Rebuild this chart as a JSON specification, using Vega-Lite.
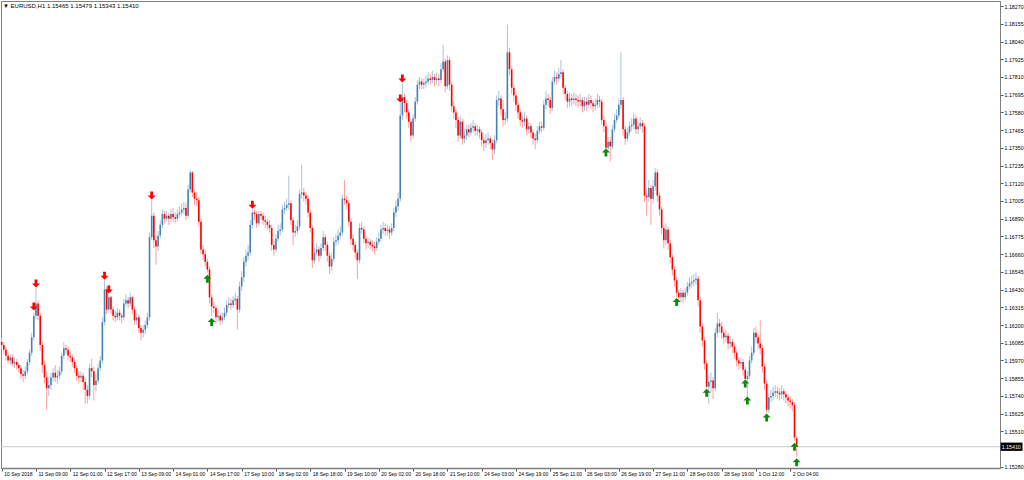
{
"$schema":"https://vega.github.io/schema/vega-lite/v6.json",
"width":999,"height":467,
"autosize":{"type":"none"},
"padding":{"left":1,"top":1,"right":24,"bottom":12},
"background":"#ffffff",
"config":{"view":{"stroke":"#7f7f7f","strokeWidth":1},"font":"Liberation Sans Narrow, Liberation Sans",
 "axis":{"labelOverlap":false,"labelBound":false,"labelFlush":false,"grid":false,"title":null}},
"title":{"text":"▼ EURUSD,H1  1.15465 1.15479 1.15343 1.15410","anchor":"start","frame":"group","orient":"top","offset":-8,"dx":2,"fontSize":6,"fontWeight":"normal","color":"#000000","font":"Liberation Sans Narrow, Liberation Sans"},
"datasets":{
"bars":[
{"i":0,"o":1.1609,"h":1.1612,"l":1.1604,"c":1.1607},
{"i":1,"o":1.1607,"h":1.1609,"l":1.1601,"c":1.1604},
{"i":2,"o":1.1604,"h":1.1606,"l":1.1597,"c":1.1600},
{"i":3,"o":1.1600,"h":1.1602,"l":1.1595,"c":1.1597},
{"i":4,"o":1.1597,"h":1.1601,"l":1.1594,"c":1.1599},
{"i":5,"o":1.1599,"h":1.1601,"l":1.1593,"c":1.1595},
{"i":6,"o":1.1595,"h":1.1599,"l":1.1592,"c":1.1596},
{"i":7,"o":1.1596,"h":1.1598,"l":1.1591,"c":1.1594},
{"i":8,"o":1.1594,"h":1.1596,"l":1.1589,"c":1.1592},
{"i":9,"o":1.1592,"h":1.1594,"l":1.1585,"c":1.1588},
{"i":10,"o":1.1588,"h":1.1591,"l":1.1583,"c":1.1587},
{"i":11,"o":1.1587,"h":1.1593,"l":1.1585,"c":1.1590},
{"i":12,"o":1.1590,"h":1.1598,"l":1.1588,"c":1.1596},
{"i":13,"o":1.1596,"h":1.1604,"l":1.1594,"c":1.1602},
{"i":14,"o":1.1602,"h":1.1615,"l":1.1600,"c":1.1612},
{"i":15,"o":1.1612,"h":1.1628,"l":1.1610,"c":1.1626},
{"i":16,"o":1.1626,"h":1.1644,"l":1.1624,"c":1.1634},
{"i":17,"o":1.1634,"h":1.1636,"l":1.1623,"c":1.1626},
{"i":18,"o":1.1626,"h":1.1628,"l":1.1603,"c":1.1607},
{"i":19,"o":1.1607,"h":1.1609,"l":1.1589,"c":1.1594},
{"i":20,"o":1.1594,"h":1.1597,"l":1.1582,"c":1.1586},
{"i":21,"o":1.1586,"h":1.1590,"l":1.1565,"c":1.1579},
{"i":22,"o":1.1579,"h":1.1586,"l":1.1574,"c":1.1581},
{"i":23,"o":1.1581,"h":1.1589,"l":1.1578,"c":1.1586},
{"i":24,"o":1.1586,"h":1.1592,"l":1.1583,"c":1.1589},
{"i":25,"o":1.1589,"h":1.1594,"l":1.1583,"c":1.1586},
{"i":26,"o":1.1586,"h":1.1591,"l":1.1582,"c":1.1587},
{"i":27,"o":1.1587,"h":1.1593,"l":1.1585,"c":1.1590},
{"i":28,"o":1.1590,"h":1.1602,"l":1.1588,"c":1.1600},
{"i":29,"o":1.1600,"h":1.1609,"l":1.1598,"c":1.1605},
{"i":30,"o":1.1605,"h":1.1607,"l":1.1601,"c":1.1604},
{"i":31,"o":1.1604,"h":1.1606,"l":1.1597,"c":1.1600},
{"i":32,"o":1.1600,"h":1.1603,"l":1.1596,"c":1.1599},
{"i":33,"o":1.1599,"h":1.1601,"l":1.1593,"c":1.1596},
{"i":34,"o":1.1596,"h":1.1598,"l":1.1589,"c":1.1592},
{"i":35,"o":1.1592,"h":1.1594,"l":1.1584,"c":1.1587},
{"i":36,"o":1.1587,"h":1.1590,"l":1.1582,"c":1.1586},
{"i":37,"o":1.1586,"h":1.1590,"l":1.1583,"c":1.1587},
{"i":38,"o":1.1587,"h":1.1589,"l":1.1578,"c":1.1583},
{"i":39,"o":1.1583,"h":1.1586,"l":1.1569,"c":1.1578},
{"i":40,"o":1.1578,"h":1.1581,"l":1.1569,"c":1.1574},
{"i":41,"o":1.1574,"h":1.1595,"l":1.1572,"c":1.1592},
{"i":42,"o":1.1592,"h":1.1598,"l":1.1586,"c":1.1590},
{"i":43,"o":1.1590,"h":1.1593,"l":1.1571,"c":1.1581},
{"i":44,"o":1.1581,"h":1.1588,"l":1.1577,"c":1.1584},
{"i":45,"o":1.1584,"h":1.1595,"l":1.1582,"c":1.1592},
{"i":46,"o":1.1592,"h":1.1600,"l":1.1590,"c":1.1597},
{"i":47,"o":1.1597,"h":1.1625,"l":1.1595,"c":1.1622},
{"i":48,"o":1.1622,"h":1.1649,"l":1.1620,"c":1.1643},
{"i":49,"o":1.1643,"h":1.1645,"l":1.1627,"c":1.1630},
{"i":50,"o":1.1630,"h":1.1640,"l":1.1628,"c":1.1638},
{"i":51,"o":1.1638,"h":1.1639,"l":1.1627,"c":1.1630},
{"i":52,"o":1.1630,"h":1.1632,"l":1.1623,"c":1.1626},
{"i":53,"o":1.1626,"h":1.1629,"l":1.1622,"c":1.1625},
{"i":54,"o":1.1625,"h":1.1631,"l":1.1623,"c":1.1628},
{"i":55,"o":1.1628,"h":1.1630,"l":1.1623,"c":1.1626},
{"i":56,"o":1.1626,"h":1.1628,"l":1.1621,"c":1.1625},
{"i":57,"o":1.1625,"h":1.1637,"l":1.1623,"c":1.1634},
{"i":58,"o":1.1634,"h":1.1640,"l":1.1632,"c":1.1636},
{"i":59,"o":1.1636,"h":1.1638,"l":1.1631,"c":1.1634},
{"i":60,"o":1.1634,"h":1.1641,"l":1.1632,"c":1.1638},
{"i":61,"o":1.1638,"h":1.1639,"l":1.1627,"c":1.1630},
{"i":62,"o":1.1630,"h":1.1632,"l":1.1620,"c":1.1623},
{"i":63,"o":1.1623,"h":1.1628,"l":1.1620,"c":1.1625},
{"i":64,"o":1.1625,"h":1.1627,"l":1.1615,"c":1.1618},
{"i":65,"o":1.1618,"h":1.1620,"l":1.1610,"c":1.1615},
{"i":66,"o":1.1615,"h":1.1620,"l":1.1612,"c":1.1617},
{"i":67,"o":1.1617,"h":1.1623,"l":1.1614,"c":1.1620},
{"i":68,"o":1.1620,"h":1.1628,"l":1.1618,"c":1.1625},
{"i":69,"o":1.1625,"h":1.1680,"l":1.1623,"c":1.1677},
{"i":70,"o":1.1677,"h":1.1701,"l":1.1675,"c":1.1691},
{"i":71,"o":1.1691,"h":1.1693,"l":1.1670,"c":1.1675},
{"i":72,"o":1.1675,"h":1.1678,"l":1.1659,"c":1.1671},
{"i":73,"o":1.1671,"h":1.1681,"l":1.1668,"c":1.1678},
{"i":74,"o":1.1678,"h":1.1688,"l":1.1676,"c":1.1685},
{"i":75,"o":1.1685,"h":1.1695,"l":1.1683,"c":1.1692},
{"i":76,"o":1.1692,"h":1.1694,"l":1.1686,"c":1.1689},
{"i":77,"o":1.1689,"h":1.1694,"l":1.1687,"c":1.1691},
{"i":78,"o":1.1691,"h":1.1693,"l":1.1685,"c":1.1689},
{"i":79,"o":1.1689,"h":1.1695,"l":1.1687,"c":1.1692},
{"i":80,"o":1.1692,"h":1.1696,"l":1.1687,"c":1.1690},
{"i":81,"o":1.1690,"h":1.1693,"l":1.1686,"c":1.1689},
{"i":82,"o":1.1689,"h":1.1695,"l":1.1687,"c":1.1692},
{"i":83,"o":1.1692,"h":1.1697,"l":1.1690,"c":1.1693},
{"i":84,"o":1.1693,"h":1.1699,"l":1.1691,"c":1.1695},
{"i":85,"o":1.1695,"h":1.1700,"l":1.1692,"c":1.1696},
{"i":86,"o":1.1696,"h":1.1699,"l":1.1688,"c":1.1691},
{"i":87,"o":1.1691,"h":1.1711,"l":1.1689,"c":1.1708},
{"i":88,"o":1.1708,"h":1.1721,"l":1.1706,"c":1.1719},
{"i":89,"o":1.1719,"h":1.1720,"l":1.1703,"c":1.1706},
{"i":90,"o":1.1706,"h":1.1708,"l":1.1698,"c":1.1702},
{"i":91,"o":1.1702,"h":1.1706,"l":1.1697,"c":1.1701},
{"i":92,"o":1.1701,"h":1.1703,"l":1.1684,"c":1.1687},
{"i":93,"o":1.1687,"h":1.1689,"l":1.1666,"c":1.1669},
{"i":94,"o":1.1669,"h":1.1672,"l":1.1662,"c":1.1666},
{"i":95,"o":1.1666,"h":1.1669,"l":1.1658,"c":1.1661},
{"i":96,"o":1.1661,"h":1.1663,"l":1.1654,"c":1.1656},
{"i":97,"o":1.1656,"h":1.1658,"l":1.1634,"c":1.1638},
{"i":98,"o":1.1638,"h":1.1640,"l":1.1626,"c":1.1632},
{"i":99,"o":1.1632,"h":1.1635,"l":1.1628,"c":1.1631},
{"i":100,"o":1.1631,"h":1.1633,"l":1.1621,"c":1.1625},
{"i":101,"o":1.1625,"h":1.1629,"l":1.1622,"c":1.1626},
{"i":102,"o":1.1626,"h":1.1628,"l":1.1620,"c":1.1623},
{"i":103,"o":1.1623,"h":1.1628,"l":1.1621,"c":1.1625},
{"i":104,"o":1.1625,"h":1.1631,"l":1.1623,"c":1.1628},
{"i":105,"o":1.1628,"h":1.1636,"l":1.1626,"c":1.1633},
{"i":106,"o":1.1633,"h":1.1638,"l":1.1631,"c":1.1634},
{"i":107,"o":1.1634,"h":1.1637,"l":1.1630,"c":1.1633},
{"i":108,"o":1.1633,"h":1.1639,"l":1.1631,"c":1.1636},
{"i":109,"o":1.1636,"h":1.1641,"l":1.1633,"c":1.1637},
{"i":110,"o":1.1637,"h":1.1639,"l":1.1617,"c":1.1630},
{"i":111,"o":1.1630,"h":1.1648,"l":1.1628,"c":1.1645},
{"i":112,"o":1.1645,"h":1.1655,"l":1.1642,"c":1.1651},
{"i":113,"o":1.1651,"h":1.1664,"l":1.1648,"c":1.1661},
{"i":114,"o":1.1661,"h":1.1669,"l":1.1658,"c":1.1665},
{"i":115,"o":1.1665,"h":1.1672,"l":1.1662,"c":1.1667},
{"i":116,"o":1.1667,"h":1.1688,"l":1.1665,"c":1.1685},
{"i":117,"o":1.1685,"h":1.1695,"l":1.1683,"c":1.1693},
{"i":118,"o":1.1693,"h":1.1695,"l":1.1688,"c":1.1692},
{"i":119,"o":1.1692,"h":1.1694,"l":1.1683,"c":1.1686},
{"i":120,"o":1.1686,"h":1.1694,"l":1.1684,"c":1.1692},
{"i":121,"o":1.1692,"h":1.1694,"l":1.1688,"c":1.1691},
{"i":122,"o":1.1691,"h":1.1693,"l":1.1685,"c":1.1688},
{"i":123,"o":1.1688,"h":1.1691,"l":1.1683,"c":1.1687},
{"i":124,"o":1.1687,"h":1.1689,"l":1.1682,"c":1.1685},
{"i":125,"o":1.1685,"h":1.1688,"l":1.1680,"c":1.1683},
{"i":126,"o":1.1683,"h":1.1685,"l":1.1668,"c":1.1672},
{"i":127,"o":1.1672,"h":1.1675,"l":1.1665,"c":1.1669},
{"i":128,"o":1.1669,"h":1.1679,"l":1.1667,"c":1.1676},
{"i":129,"o":1.1676,"h":1.1685,"l":1.1674,"c":1.1681},
{"i":130,"o":1.1681,"h":1.1686,"l":1.1678,"c":1.1682},
{"i":131,"o":1.1682,"h":1.1698,"l":1.1680,"c":1.1695},
{"i":132,"o":1.1695,"h":1.1700,"l":1.1692,"c":1.1696},
{"i":133,"o":1.1696,"h":1.1702,"l":1.1694,"c":1.1698},
{"i":134,"o":1.1698,"h":1.1717,"l":1.1695,"c":1.1699},
{"i":135,"o":1.1699,"h":1.1701,"l":1.1685,"c":1.1688},
{"i":136,"o":1.1688,"h":1.1690,"l":1.1672,"c":1.1680},
{"i":137,"o":1.1680,"h":1.1685,"l":1.1677,"c":1.1681},
{"i":138,"o":1.1681,"h":1.1688,"l":1.1679,"c":1.1684},
{"i":139,"o":1.1684,"h":1.1708,"l":1.1682,"c":1.1705},
{"i":140,"o":1.1705,"h":1.1724,"l":1.1702,"c":1.1706},
{"i":141,"o":1.1706,"h":1.1709,"l":1.1700,"c":1.1704},
{"i":142,"o":1.1704,"h":1.1706,"l":1.1698,"c":1.1702},
{"i":143,"o":1.1702,"h":1.1704,"l":1.1690,"c":1.1693},
{"i":144,"o":1.1693,"h":1.1695,"l":1.1680,"c":1.1683},
{"i":145,"o":1.1683,"h":1.1685,"l":1.1657,"c":1.1662},
{"i":146,"o":1.1662,"h":1.1670,"l":1.1660,"c":1.1667},
{"i":147,"o":1.1667,"h":1.1673,"l":1.1665,"c":1.1669},
{"i":148,"o":1.1669,"h":1.1671,"l":1.1661,"c":1.1665},
{"i":149,"o":1.1665,"h":1.1673,"l":1.1663,"c":1.1670},
{"i":150,"o":1.1670,"h":1.1681,"l":1.1668,"c":1.1677},
{"i":151,"o":1.1677,"h":1.1679,"l":1.1668,"c":1.1672},
{"i":152,"o":1.1672,"h":1.1674,"l":1.1661,"c":1.1665},
{"i":153,"o":1.1665,"h":1.1667,"l":1.1653,"c":1.1658},
{"i":154,"o":1.1658,"h":1.1667,"l":1.1655,"c":1.1663},
{"i":155,"o":1.1663,"h":1.1677,"l":1.1661,"c":1.1674},
{"i":156,"o":1.1674,"h":1.1679,"l":1.1671,"c":1.1675},
{"i":157,"o":1.1675,"h":1.1682,"l":1.1672,"c":1.1678},
{"i":158,"o":1.1678,"h":1.1684,"l":1.1676,"c":1.1680},
{"i":159,"o":1.1680,"h":1.1705,"l":1.1678,"c":1.1702},
{"i":160,"o":1.1702,"h":1.1714,"l":1.1698,"c":1.1701},
{"i":161,"o":1.1701,"h":1.1704,"l":1.1695,"c":1.1699},
{"i":162,"o":1.1699,"h":1.1701,"l":1.1684,"c":1.1687},
{"i":163,"o":1.1687,"h":1.1689,"l":1.1672,"c":1.1676},
{"i":164,"o":1.1676,"h":1.1679,"l":1.1668,"c":1.1672},
{"i":165,"o":1.1672,"h":1.1674,"l":1.1663,"c":1.1667},
{"i":166,"o":1.1667,"h":1.1669,"l":1.1650,"c":1.1662},
{"i":167,"o":1.1662,"h":1.1686,"l":1.1660,"c":1.1683},
{"i":168,"o":1.1683,"h":1.1687,"l":1.1679,"c":1.1682},
{"i":169,"o":1.1682,"h":1.1684,"l":1.1673,"c":1.1676},
{"i":170,"o":1.1676,"h":1.1678,"l":1.1669,"c":1.1673},
{"i":171,"o":1.1673,"h":1.1677,"l":1.1670,"c":1.1674},
{"i":172,"o":1.1674,"h":1.1676,"l":1.1669,"c":1.1672},
{"i":173,"o":1.1672,"h":1.1675,"l":1.1668,"c":1.1671},
{"i":174,"o":1.1671,"h":1.1674,"l":1.1666,"c":1.1670},
{"i":175,"o":1.1670,"h":1.1677,"l":1.1668,"c":1.1674},
{"i":176,"o":1.1674,"h":1.1680,"l":1.1672,"c":1.1676},
{"i":177,"o":1.1676,"h":1.1685,"l":1.1674,"c":1.1682},
{"i":178,"o":1.1682,"h":1.1687,"l":1.1679,"c":1.1683},
{"i":179,"o":1.1683,"h":1.1686,"l":1.1678,"c":1.1681},
{"i":180,"o":1.1681,"h":1.1685,"l":1.1678,"c":1.1682},
{"i":181,"o":1.1682,"h":1.1684,"l":1.1676,"c":1.1680},
{"i":182,"o":1.1680,"h":1.1686,"l":1.1678,"c":1.1683},
{"i":183,"o":1.1683,"h":1.1696,"l":1.1681,"c":1.1693},
{"i":184,"o":1.1693,"h":1.1701,"l":1.1690,"c":1.1697},
{"i":185,"o":1.1697,"h":1.1706,"l":1.1694,"c":1.1702},
{"i":186,"o":1.1702,"h":1.1764,"l":1.1700,"c":1.1756},
{"i":187,"o":1.1756,"h":1.1777,"l":1.1753,"c":1.1768},
{"i":188,"o":1.1768,"h":1.1770,"l":1.1758,"c":1.1764},
{"i":189,"o":1.1764,"h":1.1766,"l":1.1754,"c":1.1758},
{"i":190,"o":1.1758,"h":1.1760,"l":1.1748,"c":1.1752},
{"i":191,"o":1.1752,"h":1.1754,"l":1.1739,"c":1.1743},
{"i":192,"o":1.1743,"h":1.1757,"l":1.1741,"c":1.1754},
{"i":193,"o":1.1754,"h":1.1768,"l":1.1752,"c":1.1765},
{"i":194,"o":1.1765,"h":1.1779,"l":1.1763,"c":1.1776},
{"i":195,"o":1.1776,"h":1.1781,"l":1.1773,"c":1.1778},
{"i":196,"o":1.1778,"h":1.1780,"l":1.1773,"c":1.1776},
{"i":197,"o":1.1776,"h":1.1780,"l":1.1773,"c":1.1777},
{"i":198,"o":1.1777,"h":1.1782,"l":1.1774,"c":1.1778},
{"i":199,"o":1.1778,"h":1.1784,"l":1.1776,"c":1.1780},
{"i":200,"o":1.1780,"h":1.1783,"l":1.1776,"c":1.1779},
{"i":201,"o":1.1779,"h":1.1785,"l":1.1777,"c":1.1781},
{"i":202,"o":1.1781,"h":1.1783,"l":1.1775,"c":1.1779},
{"i":203,"o":1.1779,"h":1.1784,"l":1.1776,"c":1.1780},
{"i":204,"o":1.1780,"h":1.1783,"l":1.1775,"c":1.1779},
{"i":205,"o":1.1779,"h":1.1790,"l":1.1777,"c":1.1786},
{"i":206,"o":1.1786,"h":1.1802,"l":1.1784,"c":1.1791},
{"i":207,"o":1.1791,"h":1.1793,"l":1.1771,"c":1.1775},
{"i":208,"o":1.1775,"h":1.1795,"l":1.1773,"c":1.1792},
{"i":209,"o":1.1792,"h":1.1794,"l":1.1772,"c":1.1776},
{"i":210,"o":1.1776,"h":1.1778,"l":1.1758,"c":1.1762},
{"i":211,"o":1.1762,"h":1.1765,"l":1.1754,"c":1.1758},
{"i":212,"o":1.1758,"h":1.1760,"l":1.1748,"c":1.1753},
{"i":213,"o":1.1753,"h":1.1755,"l":1.1739,"c":1.1743},
{"i":214,"o":1.1743,"h":1.1756,"l":1.1741,"c":1.1752},
{"i":215,"o":1.1752,"h":1.1754,"l":1.1737,"c":1.1741},
{"i":216,"o":1.1741,"h":1.1747,"l":1.1738,"c":1.1743},
{"i":217,"o":1.1743,"h":1.1750,"l":1.1740,"c":1.1747},
{"i":218,"o":1.1747,"h":1.1750,"l":1.1742,"c":1.1745},
{"i":219,"o":1.1745,"h":1.1751,"l":1.1743,"c":1.1748},
{"i":220,"o":1.1748,"h":1.1753,"l":1.1745,"c":1.1749},
{"i":221,"o":1.1749,"h":1.1751,"l":1.1743,"c":1.1746},
{"i":222,"o":1.1746,"h":1.1750,"l":1.1743,"c":1.1747},
{"i":223,"o":1.1747,"h":1.1749,"l":1.1741,"c":1.1745},
{"i":224,"o":1.1745,"h":1.1747,"l":1.1736,"c":1.1740},
{"i":225,"o":1.1740,"h":1.1742,"l":1.1733,"c":1.1738},
{"i":226,"o":1.1738,"h":1.1744,"l":1.1735,"c":1.1740},
{"i":227,"o":1.1740,"h":1.1745,"l":1.1737,"c":1.1741},
{"i":228,"o":1.1741,"h":1.1743,"l":1.1734,"c":1.1738},
{"i":229,"o":1.1738,"h":1.1740,"l":1.1727,"c":1.1734},
{"i":230,"o":1.1734,"h":1.1743,"l":1.1731,"c":1.1740},
{"i":231,"o":1.1740,"h":1.1769,"l":1.1738,"c":1.1766},
{"i":232,"o":1.1766,"h":1.1772,"l":1.1762,"c":1.1767},
{"i":233,"o":1.1767,"h":1.1769,"l":1.1756,"c":1.1760},
{"i":234,"o":1.1760,"h":1.1766,"l":1.1749,"c":1.1753},
{"i":235,"o":1.1753,"h":1.1758,"l":1.1750,"c":1.1754},
{"i":236,"o":1.1754,"h":1.1815,"l":1.1752,"c":1.1797},
{"i":237,"o":1.1797,"h":1.1800,"l":1.1782,"c":1.1786},
{"i":238,"o":1.1786,"h":1.1788,"l":1.1770,"c":1.1774},
{"i":239,"o":1.1774,"h":1.1776,"l":1.1765,"c":1.1769},
{"i":240,"o":1.1769,"h":1.1771,"l":1.1759,"c":1.1763},
{"i":241,"o":1.1763,"h":1.1765,"l":1.1754,"c":1.1758},
{"i":242,"o":1.1758,"h":1.1760,"l":1.1749,"c":1.1753},
{"i":243,"o":1.1753,"h":1.1756,"l":1.1748,"c":1.1752},
{"i":244,"o":1.1752,"h":1.1758,"l":1.1749,"c":1.1754},
{"i":245,"o":1.1754,"h":1.1756,"l":1.1743,"c":1.1747},
{"i":246,"o":1.1747,"h":1.1752,"l":1.1744,"c":1.1749},
{"i":247,"o":1.1749,"h":1.1751,"l":1.1741,"c":1.1745},
{"i":248,"o":1.1745,"h":1.1747,"l":1.1737,"c":1.1741},
{"i":249,"o":1.1741,"h":1.1744,"l":1.1734,"c":1.1740},
{"i":250,"o":1.1740,"h":1.1749,"l":1.1738,"c":1.1746},
{"i":251,"o":1.1746,"h":1.1752,"l":1.1744,"c":1.1749},
{"i":252,"o":1.1749,"h":1.1752,"l":1.1745,"c":1.1748},
{"i":253,"o":1.1748,"h":1.1766,"l":1.1746,"c":1.1763},
{"i":254,"o":1.1763,"h":1.1772,"l":1.1760,"c":1.1767},
{"i":255,"o":1.1767,"h":1.1770,"l":1.1762,"c":1.1766},
{"i":256,"o":1.1766,"h":1.1768,"l":1.1757,"c":1.1761},
{"i":257,"o":1.1761,"h":1.1781,"l":1.1759,"c":1.1778},
{"i":258,"o":1.1778,"h":1.1785,"l":1.1776,"c":1.1781},
{"i":259,"o":1.1781,"h":1.1784,"l":1.1776,"c":1.1780},
{"i":260,"o":1.1780,"h":1.1787,"l":1.1778,"c":1.1783},
{"i":261,"o":1.1783,"h":1.1792,"l":1.1780,"c":1.1784},
{"i":262,"o":1.1784,"h":1.1786,"l":1.1770,"c":1.1774},
{"i":263,"o":1.1774,"h":1.1776,"l":1.1766,"c":1.1770},
{"i":264,"o":1.1770,"h":1.1772,"l":1.1761,"c":1.1765},
{"i":265,"o":1.1765,"h":1.1771,"l":1.1762,"c":1.1767},
{"i":266,"o":1.1767,"h":1.1770,"l":1.1762,"c":1.1766},
{"i":267,"o":1.1766,"h":1.1771,"l":1.1763,"c":1.1767},
{"i":268,"o":1.1767,"h":1.1770,"l":1.1762,"c":1.1766},
{"i":269,"o":1.1766,"h":1.1769,"l":1.1761,"c":1.1765},
{"i":270,"o":1.1765,"h":1.1770,"l":1.1762,"c":1.1766},
{"i":271,"o":1.1766,"h":1.1768,"l":1.1758,"c":1.1762},
{"i":272,"o":1.1762,"h":1.1768,"l":1.1759,"c":1.1765},
{"i":273,"o":1.1765,"h":1.1768,"l":1.1759,"c":1.1763},
{"i":274,"o":1.1763,"h":1.1770,"l":1.1761,"c":1.1766},
{"i":275,"o":1.1766,"h":1.1769,"l":1.1760,"c":1.1764},
{"i":276,"o":1.1764,"h":1.1766,"l":1.1758,"c":1.1762},
{"i":277,"o":1.1762,"h":1.1767,"l":1.1759,"c":1.1763},
{"i":278,"o":1.1763,"h":1.1770,"l":1.1761,"c":1.1766},
{"i":279,"o":1.1766,"h":1.1769,"l":1.1761,"c":1.1765},
{"i":280,"o":1.1765,"h":1.1767,"l":1.1750,"c":1.1753},
{"i":281,"o":1.1753,"h":1.1756,"l":1.1745,"c":1.1749},
{"i":282,"o":1.1749,"h":1.1751,"l":1.1734,"c":1.1735},
{"i":283,"o":1.1735,"h":1.1742,"l":1.1733,"c":1.1739},
{"i":284,"o":1.1739,"h":1.1742,"l":1.1726,"c":1.1736},
{"i":285,"o":1.1736,"h":1.1750,"l":1.1734,"c":1.1747},
{"i":286,"o":1.1747,"h":1.1757,"l":1.1745,"c":1.1753},
{"i":287,"o":1.1753,"h":1.1760,"l":1.1751,"c":1.1756},
{"i":288,"o":1.1756,"h":1.1767,"l":1.1754,"c":1.1763},
{"i":289,"o":1.1763,"h":1.1797,"l":1.1760,"c":1.1766},
{"i":290,"o":1.1766,"h":1.1768,"l":1.1743,"c":1.1747},
{"i":291,"o":1.1747,"h":1.1749,"l":1.1737,"c":1.1741},
{"i":292,"o":1.1741,"h":1.1748,"l":1.1739,"c":1.1745},
{"i":293,"o":1.1745,"h":1.1752,"l":1.1743,"c":1.1749},
{"i":294,"o":1.1749,"h":1.1754,"l":1.1746,"c":1.1750},
{"i":295,"o":1.1750,"h":1.1758,"l":1.1747,"c":1.1754},
{"i":296,"o":1.1754,"h":1.1756,"l":1.1744,"c":1.1747},
{"i":297,"o":1.1747,"h":1.1752,"l":1.1744,"c":1.1749},
{"i":298,"o":1.1749,"h":1.1755,"l":1.1747,"c":1.1751},
{"i":299,"o":1.1751,"h":1.1753,"l":1.1745,"c":1.1749},
{"i":300,"o":1.1749,"h":1.1751,"l":1.1700,"c":1.1704},
{"i":301,"o":1.1704,"h":1.1708,"l":1.1691,"c":1.1703},
{"i":302,"o":1.1703,"h":1.1714,"l":1.1700,"c":1.1709},
{"i":303,"o":1.1709,"h":1.1711,"l":1.1685,"c":1.1702},
{"i":304,"o":1.1702,"h":1.1714,"l":1.1699,"c":1.1710},
{"i":305,"o":1.1710,"h":1.1722,"l":1.1707,"c":1.1719},
{"i":306,"o":1.1719,"h":1.1721,"l":1.1700,"c":1.1704},
{"i":307,"o":1.1704,"h":1.1706,"l":1.1691,"c":1.1695},
{"i":308,"o":1.1695,"h":1.1697,"l":1.1679,"c":1.1683},
{"i":309,"o":1.1683,"h":1.1685,"l":1.1670,"c":1.1675},
{"i":310,"o":1.1675,"h":1.1686,"l":1.1672,"c":1.1682},
{"i":311,"o":1.1682,"h":1.1684,"l":1.1669,"c":1.1673},
{"i":312,"o":1.1673,"h":1.1675,"l":1.1660,"c":1.1664},
{"i":313,"o":1.1664,"h":1.1666,"l":1.1652,"c":1.1656},
{"i":314,"o":1.1656,"h":1.1658,"l":1.1645,"c":1.1649},
{"i":315,"o":1.1649,"h":1.1651,"l":1.1638,"c":1.1641},
{"i":316,"o":1.1641,"h":1.1643,"l":1.1635,"c":1.1638},
{"i":317,"o":1.1638,"h":1.1644,"l":1.1635,"c":1.1641},
{"i":318,"o":1.1641,"h":1.1643,"l":1.1634,"c":1.1638},
{"i":319,"o":1.1638,"h":1.1644,"l":1.1636,"c":1.1641},
{"i":320,"o":1.1641,"h":1.1648,"l":1.1639,"c":1.1645},
{"i":321,"o":1.1645,"h":1.1651,"l":1.1643,"c":1.1647},
{"i":322,"o":1.1647,"h":1.1652,"l":1.1644,"c":1.1648},
{"i":323,"o":1.1648,"h":1.1653,"l":1.1645,"c":1.1649},
{"i":324,"o":1.1649,"h":1.1654,"l":1.1646,"c":1.1650},
{"i":325,"o":1.1650,"h":1.1652,"l":1.1632,"c":1.1636},
{"i":326,"o":1.1636,"h":1.1638,"l":1.1615,"c":1.1619},
{"i":327,"o":1.1619,"h":1.1621,"l":1.1606,"c":1.1610},
{"i":328,"o":1.1610,"h":1.1612,"l":1.1591,"c":1.1595},
{"i":329,"o":1.1595,"h":1.1597,"l":1.1579,"c":1.1580},
{"i":330,"o":1.1580,"h":1.1587,"l":1.1569,"c":1.1583},
{"i":331,"o":1.1583,"h":1.1589,"l":1.1576,"c":1.1584},
{"i":332,"o":1.1584,"h":1.1586,"l":1.1572,"c":1.1579},
{"i":333,"o":1.1579,"h":1.1618,"l":1.1577,"c":1.1615},
{"i":334,"o":1.1615,"h":1.1628,"l":1.1612,"c":1.1621},
{"i":335,"o":1.1621,"h":1.1624,"l":1.1615,"c":1.1619},
{"i":336,"o":1.1619,"h":1.1622,"l":1.1611,"c":1.1615},
{"i":337,"o":1.1615,"h":1.1617,"l":1.1608,"c":1.1612},
{"i":338,"o":1.1612,"h":1.1617,"l":1.1609,"c":1.1613},
{"i":339,"o":1.1613,"h":1.1615,"l":1.1604,"c":1.1608},
{"i":340,"o":1.1608,"h":1.1613,"l":1.1605,"c":1.1609},
{"i":341,"o":1.1609,"h":1.1611,"l":1.1602,"c":1.1606},
{"i":342,"o":1.1606,"h":1.1608,"l":1.1598,"c":1.1602},
{"i":343,"o":1.1602,"h":1.1604,"l":1.1593,"c":1.1597},
{"i":344,"o":1.1597,"h":1.1599,"l":1.1591,"c":1.1595},
{"i":345,"o":1.1595,"h":1.1599,"l":1.1592,"c":1.1596},
{"i":346,"o":1.1596,"h":1.1598,"l":1.1587,"c":1.1591},
{"i":347,"o":1.1591,"h":1.1593,"l":1.1584,"c":1.1585},
{"i":348,"o":1.1585,"h":1.1590,"l":1.1573,"c":1.1587},
{"i":349,"o":1.1587,"h":1.1600,"l":1.1585,"c":1.1597},
{"i":350,"o":1.1597,"h":1.1606,"l":1.1595,"c":1.1602},
{"i":351,"o":1.1602,"h":1.1618,"l":1.1600,"c":1.1615},
{"i":352,"o":1.1615,"h":1.1619,"l":1.1608,"c":1.1612},
{"i":353,"o":1.1612,"h":1.1614,"l":1.1604,"c":1.1608},
{"i":354,"o":1.1608,"h":1.1623,"l":1.1601,"c":1.1605},
{"i":355,"o":1.1605,"h":1.1607,"l":1.1589,"c":1.1593},
{"i":356,"o":1.1593,"h":1.1595,"l":1.1578,"c":1.1582},
{"i":357,"o":1.1582,"h":1.1584,"l":1.1563,"c":1.1565},
{"i":358,"o":1.1565,"h":1.1576,"l":1.1563,"c":1.1573},
{"i":359,"o":1.1573,"h":1.1578,"l":1.1570,"c":1.1574},
{"i":360,"o":1.1574,"h":1.1580,"l":1.1571,"c":1.1576},
{"i":361,"o":1.1576,"h":1.1581,"l":1.1573,"c":1.1577},
{"i":362,"o":1.1577,"h":1.1580,"l":1.1572,"c":1.1576},
{"i":363,"o":1.1576,"h":1.1579,"l":1.1571,"c":1.1575},
{"i":364,"o":1.1575,"h":1.1581,"l":1.1572,"c":1.1577},
{"i":365,"o":1.1577,"h":1.1579,"l":1.1571,"c":1.1575},
{"i":366,"o":1.1575,"h":1.1577,"l":1.1569,"c":1.1573},
{"i":367,"o":1.1573,"h":1.1575,"l":1.1567,"c":1.1571},
{"i":368,"o":1.1571,"h":1.1574,"l":1.1566,"c":1.1570},
{"i":369,"o":1.1570,"h":1.1572,"l":1.1564,"c":1.1568},
{"i":370,"o":1.1568,"h":1.1570,"l":1.1545,"c":1.1547},
{"i":371,"o":1.15465,"h":1.15479,"l":1.15343,"c":1.15410}
],
"arrows":[
{"i":15,"p":1.1632,"d":"dn"},{"i":16,"p":1.1647,"d":"dn"},{"i":48,"p":1.1652,"d":"dn"},{"i":50,"p":1.1643,"d":"dn"},
{"i":70,"p":1.1704,"d":"dn"},{"i":117,"p":1.1698,"d":"dn"},{"i":186,"p":1.1767,"d":"dn"},{"i":187,"p":1.1780,"d":"dn"},
{"i":96,"p":1.1650,"d":"up"},{"i":98,"p":1.1622,"d":"up"},{"i":282,"p":1.1732,"d":"up"},{"i":315,"p":1.1635,"d":"up"},
{"i":329,"p":1.1576,"d":"up"},{"i":347,"p":1.1582,"d":"up"},{"i":348,"p":1.1571,"d":"up"},{"i":357,"p":1.1560,"d":"up"},
{"i":370,"p":1.1541,"d":"up"},{"i":371,"p":1.1531,"d":"up"}
],
"bid":[{"p":1.15410,"label":"1.15410","x0":466.2,"x1":476.4,"lo":1.15383,"hi":1.15437}]
},
"layer":[
{"data":{"name":"bid"},"mark":{"type":"rule","color":"#c8c8c8","strokeWidth":1},
 "encoding":{"y":{"field":"p","type":"quantitative","scale":{"domain":[1.15272,1.18303],"zero":false,"nice":false},
   "axis":{"orient":"right","title":null,"tickCount":60,"values":[1.1528,1.1551,1.15625,1.1574,1.15855,1.1597,1.16085,1.162,1.16315,1.1643,1.16545,1.1666,1.16775,1.1689,1.17005,1.1712,1.17235,1.1735,1.17465,1.1758,1.17695,1.1781,1.17925,1.1804,1.18155,1.1827],
   "format":".5f","grid":false,"domainColor":"#7f7f7f","tickColor":"#555555","tickSize":3,"labelPadding":1,"labelFontSize":5.3,"labelColor":"#000000","labelFont":"Liberation Sans Narrow, Liberation Sans","labelOverlap":false,"labelBound":false,"labelFlush":false}}}},
{"data":{"name":"bars"},"mark":{"type":"rule","strokeWidth":1},
 "encoding":{
  "x":{"field":"i","type":"quantitative","scale":{"domain":[-0.317,465.9],"zero":false,"nice":false},
   "axis":{"orient":"bottom","title":null,"tickCount":60,"values":[0,16,32,48,64,80,96,112,128,144,160,176,192,208,224,240,256,272,288,304,320,336,352,368],
   "labelExpr":"['10 Sep 2018','11 Sep 09:00','12 Sep 01:00','12 Sep 17:00','13 Sep 09:00','14 Sep 01:00','14 Sep 17:00','17 Sep 10:00','18 Sep 02:00','18 Sep 18:00','19 Sep 10:00','20 Sep 02:00','20 Sep 18:00','21 Sep 10:00','24 Sep 03:00','24 Sep 19:00','25 Sep 11:00','26 Sep 03:00','26 Sep 19:00','27 Sep 11:00','28 Sep 03:00','28 Sep 19:00','1 Oct 12:00','2 Oct 04:00'][round(datum.value/16)]",
   "grid":false,"domainColor":"#7f7f7f","domainWidth":1.5,"tickColor":"#555555","tickSize":3,"labelPadding":0,"labelAlign":"left","labelBaseline":"top","labelOffset":2,"labelFontSize":5,"labelColor":"#000000","labelFont":"Liberation Sans Narrow, Liberation Sans","labelOverlap":false,"labelBound":false,"labelFlush":false}},
  "y":{"field":"l","type":"quantitative","axis":{"title":null}},
  "y2":{"field":"h"},
  "color":{"condition":{"test":"datum.c >= datum.o","value":"#a9c3dd"},"value":"#ff9f9f"}}},
{"data":{"name":"bars"},"mark":{"type":"rule","strokeWidth":1.6},
 "encoding":{
  "x":{"field":"i","type":"quantitative","axis":{"title":null}},
  "y":{"field":"o","type":"quantitative","axis":{"title":null}},
  "y2":{"field":"c"},
  "color":{"condition":{"test":"datum.c >= datum.o","value":"#4682b4"},"value":"#ff0000"}}},
{"data":{"name":"arrows"},"mark":{"type":"point","filled":true,"opacity":1,"size":64,"strokeWidth":0},
 "encoding":{
  "x":{"field":"i","type":"quantitative","axis":{"title":null}},
  "y":{"field":"p","type":"quantitative","axis":{"title":null}},
  "shape":{"field":"d","type":"nominal","scale":{"domain":["dn","up"],"range":["M0,1L1,0L0.35,0L0.35,-1L-0.35,-1L-0.35,0L-1,0Z","M0,-1L1,0L0.35,0L0.35,1L-0.35,1L-0.35,0L-1,0Z"]},"legend":null},
  "color":{"field":"d","type":"nominal","scale":{"domain":["dn","up"],"range":["#ff0000","#0a8a0a"]},"legend":null}}},
{"data":{"name":"bid"},"mark":{"type":"rect","color":"#000000"},
 "encoding":{
  "x":{"field":"x0","type":"quantitative","axis":{"title":null}},"x2":{"field":"x1"},
  "y":{"field":"lo","type":"quantitative","axis":{"title":null}},"y2":{"field":"hi"}}},
{"data":{"name":"bid"},"mark":{"type":"text","color":"#ffffff","align":"left","baseline":"middle","fontSize":5.3,"font":"Liberation Sans Narrow, Liberation Sans","dx":1},
 "encoding":{
  "x":{"field":"x0","type":"quantitative","axis":{"title":null}},
  "y":{"field":"p","type":"quantitative","axis":{"title":null}},
  "text":{"field":"label"}}}
]
}
